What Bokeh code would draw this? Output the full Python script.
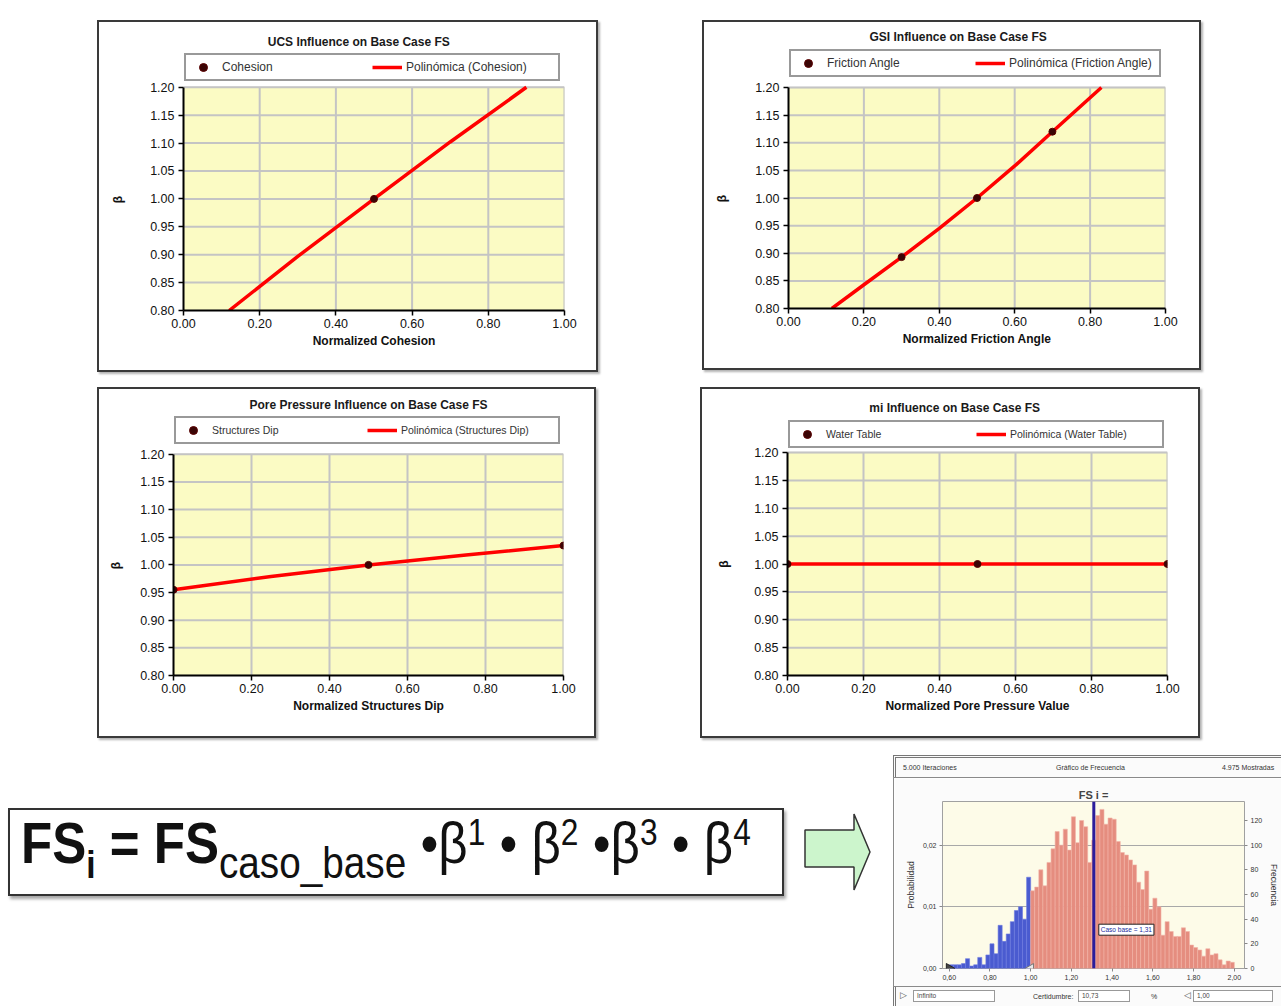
import numpy as np
from bokeh.plotting import figure
from bokeh.models import (Range1d, LinearAxis, FixedTicker, CustomJSTickFormatter,
                          PrintfTickFormatter, Legend, LegendItem, Span, Label, Div,
                          Spacer, Grid, BoxAnnotation)
from bokeh.layouts import row, column
from bokeh.embed import file_html
from bokeh.resources import INLINE

FONT = "Liberation Sans"
FRAME_BG = "#fbfbc4"

# ---------------- data: four sensitivity charts ----------------
x_ticks = [0.0, 0.2, 0.4, 0.6, 0.8, 1.0]
y_ticks = [0.80, 0.85, 0.90, 0.95, 1.00, 1.05, 1.10, 1.15, 1.20]
y_min, y_max = 0.80, 1.20

ucs_x = [0.5]
ucs_y = [1.00]
ucs_trend_x = [0.12, 0.30, 0.50, 0.70, 0.90]
ucs_trend_y = [0.80, 0.897, 1.00, 1.102, 1.20]

gsi_x = [0.3, 0.5, 0.7]
gsi_y = [0.893, 1.00, 1.12]
gsi_trend_x = [0.115, 0.20, 0.30, 0.40, 0.50, 0.60, 0.70, 0.83]
gsi_trend_y = [0.80, 0.843, 0.893, 0.945, 1.00, 1.058, 1.12, 1.20]

pp_x = [0.0, 0.5, 1.0]
pp_y = [0.955, 1.00, 1.035]
pp_trend_x = [0.0, 0.25, 0.5, 0.75, 1.0]
pp_trend_y = [0.955, 0.979, 1.00, 1.018, 1.035]

mi_x = [0.0, 0.5, 1.0]
mi_y = [1.00, 1.00, 1.00]
mi_trend_x = [0.0, 0.5, 1.0]
mi_trend_y = [1.00, 1.00, 1.00]

# ---------------- data: frequency histogram ----------------
n_iterations = 5000
hist_bin_start = 0.60
hist_bin_width = 0.02
hist_counts_below = [3, 3, 3, 4, 8, 2, 3, 9, 3, 11, 20, 12, 35, 22, 28, 38, 47, 50, 40, 74]
hist_counts_above = [63, 66, 80, 67, 86, 97, 111, 100, 113, 96,
                     123, 102, 120, 115, 86, 104, 124, 129, 117, 122,
                     121, 103, 94, 92, 88, 84, 70, 64, 79, 48,
                     57, 50, 27, 38, 30, 26, 26, 33, 30, 19,
                     17, 15, 10, 16, 11, 12, 7, 3, 6, 5]
hist_x_ticks = [0.6, 0.8, 1.0, 1.2, 1.4, 1.6, 1.8, 2.0]
freq_ticks = [0, 20, 40, 60, 80, 100, 120]
prob_ticks = [0.0, 0.01, 0.02]
base_case = 1.31
certainty_limit = 1.00

arrow_x = [0, 49, 49, 65, 49, 49, 0]
arrow_y = [23, 23, 0, 38, 76, 60, 60]

BORDER = 2
BOX_STYLE = {"border": f"{BORDER}px solid #3a3a3a",
             "box-shadow": "2px 2px 2px rgba(0,0,0,0.30)",
             "box-sizing": "border-box"}
LEGEND_H = 24
FRAME_TOP = 3
NBSP = "\u00a0"


def make_chart(title, xlabel, px, py, tx, ty, lab_pts, lab_trend,
               w, h, fig_left, fig_top, frame_left, frame_right,
               title_y, title_x, legend_top, data_top, data_bottom,
               legend_font, ystand):
    c_left = fig_left + BORDER
    c_top = fig_top + BORDER
    bl = frame_left - c_left
    br = c_left + w - frame_right
    bb = c_top + h - data_bottom
    frame_w = w - bl - br
    frame_h = h - FRAME_TOP - bb
    extra_px = data_top - c_top - FRAME_TOP
    data_h = frame_h - extra_px
    per_px = (y_max - y_min) / data_h
    y_end = y_max + extra_px * per_px
    p = figure(width=w, height=h, x_range=Range1d(0, 1), y_range=Range1d(y_min, y_end),
               output_backend="svg", toolbar_location=None,
               min_border_left=bl, min_border_right=br,
               min_border_top=FRAME_TOP, min_border_bottom=bb,
               background_fill_color="white", border_fill_color="white",
               outline_line_color=None, styles=BOX_STYLE)

    # plot area (yellow) and its grid, limited to the data region
    p.add_layout(BoxAnnotation(left=0, right=1, bottom=y_min, top=y_max,
                               fill_color=FRAME_BG, fill_alpha=1.0,
                               line_color="#b5b5b5", line_width=1.5, level="underlay"))
    gx = [t for t in x_ticks if t > 0]
    gy = [t for t in y_ticks if t > y_min]
    p.segment(x0=gx, y0=[y_min] * len(gx), x1=gx, y1=[y_max] * len(gx),
              line_color="#c4c4c4", line_width=2)
    p.segment(x0=[0] * len(gy), y0=gy, x1=[1] * len(gy), y1=gy,
              line_color="#c4c4c4", line_width=2)

    r_line = p.line(tx, ty, line_color="#ff0000", line_width=3.5)
    r_pts = p.scatter(px, py, size=7, fill_color="#3a0505", line_color="#5a0000")

    # chart title, drawn inside the (extended) frame above the legend
    p.add_layout(Label(x=title_x, y=y_max + (data_top - title_y) * per_px,
                       text=title, text_align="center", text_baseline="middle",
                       text_font=FONT, text_font_size="12px", text_font_style="bold",
                       text_color="#1a1a1a"))

    for ax in (p.xaxis[0], p.yaxis[0]):
        ax.axis_line_color = "black"
        ax.axis_line_width = 2
        ax.major_tick_line_color = "black"
        ax.major_tick_line_width = 1.5
        ax.major_tick_in = 0
        ax.major_tick_out = 5
        ax.minor_tick_line_color = None
        ax.major_label_text_font = FONT
        ax.major_label_text_font_size = "12.5px"
        ax.major_label_text_color = "#111111"
        ax.axis_label_text_font = FONT
        ax.axis_label_text_font_size = "12px"
        ax.axis_label_text_font_style = "bold"
        ax.axis_label_text_color = "#111111"
        ax.formatter = PrintfTickFormatter(format="%.2f")
    p.xaxis.ticker = FixedTicker(ticks=x_ticks)
    p.yaxis.ticker = FixedTicker(ticks=y_ticks)
    p.yaxis.bounds = (y_min, y_max)
    p.xaxis.major_label_standoff = 3
    p.xaxis.axis_label = xlabel
    p.xaxis.axis_label_standoff = 3
    p.yaxis.major_label_standoff = 4
    # the frame extends above the data; pad the label so that β sits at mid-data height
    n_pad = int(round(extra_px / 3.34))
    p.yaxis.axis_label = "β" + NBSP * n_pad
    p.yaxis.axis_label_standoff = ystand
    p.grid.visible = False

    legend_w = frame_w - 8
    label_w = (legend_w - 72) // 2
    vy = frame_h - (legend_top - c_top - FRAME_TOP) - LEGEND_H - 3
    legend = Legend(items=[LegendItem(label=lab_pts, renderers=[r_pts]),
                           LegendItem(label=lab_trend, renderers=[r_line])],
                    orientation="horizontal", location=(1, vy),
                    padding=2, spacing=0, margin=0,
                    glyph_width=30, glyph_height=20,
                    label_width=label_w, label_height=20, label_standoff=4,
                    label_text_font=FONT, label_text_font_size=legend_font,
                    label_text_color="#333333",
                    border_line_color="#333333", border_line_width=2,
                    background_fill_color="white", background_fill_alpha=1.0)
    p.add_layout(legend, "center")
    return p


p1 = make_chart("UCS Influence on Base Case FS", "Normalized Cohesion",
                ucs_x, ucs_y, ucs_trend_x, ucs_trend_y,
                "Cohesion", "Polinómica (Cohesion)",
                501, 352, 97, 20, 183, 564, 42, 0.46, 55, 87, 311, "12px", 22)
p2 = make_chart("GSI Influence on Base Case FS", "Normalized Friction Angle",
                gsi_x, gsi_y, gsi_trend_x, gsi_trend_y,
                "Friction Angle", "Polinómica (Friction Angle)",
                499, 350, 702, 20, 788, 1165, 36, 0.45, 50, 87, 308, "12px", 23)
p3 = make_chart("Pore Pressure Influence on Base Case FS", "Normalized Structures Dip",
                pp_x, pp_y, pp_trend_x, pp_trend_y,
                "Structures Dip", "Polinómica (Structures Dip)",
                499, 351, 97, 387, 173, 563, 405, 0.50, 418, 454, 676, "10.5px", 14)
p4 = make_chart("mi Influence on Base Case FS", "Normalized Pore Pressure Value",
                mi_x, mi_y, mi_trend_x, mi_trend_y,
                "Water Table", "Polinómica (Water Table)",
                500, 351, 700, 387, 787, 1167, 407, 0.44, 421, 452, 675, "10.5px", 20)

# ---------------- histogram (Crystal Ball style) ----------------
n_below = len(hist_counts_below)
n_above = len(hist_counts_above)
left_below = hist_bin_start + hist_bin_width * np.arange(n_below)
left_above = hist_bin_start + hist_bin_width * (n_below + np.arange(n_above))
y_top = 135.4

h = figure(width=388, height=210, x_range=Range1d(0.567, 2.05), y_range=Range1d(0, y_top),
           output_backend="svg", toolbar_location=None, y_axis_location="right",
           min_border_left=48, min_border_right=30, min_border_top=23, min_border_bottom=20,
           background_fill_color="#fdfbe8", border_fill_color="#fbfbfb",
           outline_line_color="#a0a0a0", outline_line_width=1,
           styles={"border-left": "1px solid #8a8a8a", "border-top": "1px solid #8a8a8a",
                   "border-bottom": "1px solid #8a8a8a", "box-sizing": "border-box"})
h.title.text = "FS i ="
h.title.align = "center"
h.title.text_font = FONT
h.title.text_font_size = "11px"
h.title.text_font_style = "bold"
h.title.standoff = 2
h.xgrid.visible = False
h.ygrid.visible = False
h.add_layout(Grid(dimension=1, ticker=FixedTicker(ticks=[50, 100]),
                  grid_line_color="#a8a8a8", grid_line_width=1))

h.vbar(x=left_below + hist_bin_width / 2, top=hist_counts_below, width=hist_bin_width,
       fill_color="#4a5bd0", line_color="#6c7be0", line_width=0.6)
h.vbar(x=left_above + hist_bin_width / 2, top=hist_counts_above, width=hist_bin_width,
       fill_color="#e58d7f", line_color="#f1b3a8", line_width=0.6)
h.add_layout(Span(location=base_case, dimension="height", line_color="#2b1d9c", line_width=3))
h.add_layout(Label(x=base_case, y=27, x_offset=5, text="Caso base = 1,31",
                   text_font=FONT, text_font_size="6.5px", text_color="#1a2d9c",
                   background_fill_color="white", border_line_color="#222222",
                   border_line_width=1, padding=2))
h.scatter([hist_x_ticks[0]], [0], marker="triangle", angle=-np.pi / 2, size=10,
          fill_color="#444444", line_color="#222222")
h.scatter([certainty_limit], [0], marker="triangle", angle=np.pi / 2, size=10,
          fill_color="#e8e8e8", line_color="#777777")

fmt_comma = CustomJSTickFormatter(code="return tick.toFixed(2).replace('.', ',');")
ax_x = h.xaxis[0]
ax_x.ticker = FixedTicker(ticks=hist_x_ticks)
ax_x.formatter = fmt_comma

ax_r = h.yaxis[0]
ax_r.ticker = FixedTicker(ticks=freq_ticks)
ax_r.axis_label = "Frecuencia"

h.extra_y_ranges = {"prob": Range1d(0, y_top / n_iterations)}
ax_l = LinearAxis(y_range_name="prob", ticker=FixedTicker(ticks=prob_ticks),
                  formatter=fmt_comma, axis_label="Probabilidad")
h.add_layout(ax_l, "left")

for ax in (ax_x, ax_r, ax_l):
    ax.axis_line_color = None
    ax.major_tick_line_color = "#888888"
    ax.major_tick_in = 0
    ax.major_tick_out = 3
    ax.minor_tick_line_color = None
    ax.major_label_text_font = FONT
    ax.major_label_text_font_size = "7px"
    ax.major_label_text_color = "#333333"
    ax.major_label_standoff = 3
    ax.axis_label_text_font = FONT
    ax.axis_label_text_font_size = "8.5px"
    ax.axis_label_text_font_style = "normal"
    ax.axis_label_text_color = "#333333"
    ax.axis_label_standoff = 4

hist_header = Div(width=388, height=22, margin=0, text=(
    '<div style="position:relative;width:388px;height:22px;font-family:\'Liberation Sans\';'
    'font-size:7px;color:#333;overflow:hidden;border-top:3px double #777;border-left:3px double #777;'
    'box-sizing:border-box;background:#fbfbfb">'
    '<span style="position:absolute;left:7px;top:5px;white-space:nowrap">5.000 Iteraciones</span>'
    '<span style="position:absolute;left:160px;top:5px;white-space:nowrap">Gráfico de Frecuencia</span>'
    '<span style="position:absolute;left:326px;top:5px;white-space:nowrap">4.975 Mostradas</span>'
    '</div>'))

box_css = ("position:absolute;top:3px;height:12px;border:1px solid #999;background:white;"
           "font-size:6.5px;line-height:10px;padding-left:3px;box-sizing:border-box;color:#444")
hist_footer = Div(width=388, height=19, margin=0, text=(
    '<div style="position:relative;width:388px;height:19px;font-family:\'Liberation Sans\';'
    'font-size:7px;color:#333;overflow:hidden;border-left:3px double #777;box-sizing:border-box;'
    'background:#fbfbfb">'
    '<span style="position:absolute;left:4px;top:2px;font-size:9px;line-height:12px;color:#555">&#9655;</span>'
    f'<div style="{box_css};left:17px;width:82px">Infinito</div>'
    '<span style="position:absolute;left:137px;top:5px;white-space:nowrap">Certidumbre:</span>'
    f'<div style="{box_css};left:182px;width:52px">10,73</div>'
    '<span style="position:absolute;left:255px;top:5px">%</span>'
    '<span style="position:absolute;left:288px;top:2px;font-size:9px;line-height:12px;color:#555">&#9665;</span>'
    f'<div style="{box_css};left:297px;width:80px">1,00</div>'
    '</div>'))

hist_col = column(hist_header, h, hist_footer, spacing=0)

# ---------------- formula and arrow ----------------
SUP = 'style="font-size:36px;vertical-align:18px;line-height:0"'
formula = Div(width=776, height=88, margin=0,
              styles={"border": "2px solid #333",
                      "box-shadow": "2px 3px 3px rgba(0,0,0,0.35)",
                      "background": "white", "box-sizing": "border-box",
                      "overflow": "hidden"},
              text=(
    '<div style="position:absolute;left:11px;top:-2px;white-space:nowrap;color:#111;'
    'font-family:\'Liberation Sans\',sans-serif;font-size:58px;line-height:70px;'
    'transform:scaleX(0.88);transform-origin:0 0">'
    '<b>FS</b><span style="font-size:38px;vertical-align:-15px;line-height:0;font-weight:bold">i</span>'
    ' <b>=</b> <b>FS</b><span style="font-size:44px;vertical-align:-15px;line-height:0">caso_base</span>'
    f' •β<span {SUP}>1</span>'
    f' • β<span {SUP}>2</span>'
    f' •β<span {SUP}>3</span>'
    f' • β<span {SUP}>4</span>'
    '</div>'))

arrow = figure(width=68, height=79, x_range=Range1d(-1.5, 66.5), y_range=Range1d(-1.5, 77.5),
               output_backend="svg", toolbar_location=None, min_border=0,
               background_fill_alpha=0, border_fill_alpha=0, outline_line_color=None)
arrow.axis.visible = False
arrow.grid.visible = False
arrow.patch(arrow_x, arrow_y, fill_color="#ccf5cc", line_color="#333333", line_width=1.5)

row1 = row(Spacer(width=97), p1, Spacer(width=104), p2, spacing=0)
row2 = row(Spacer(width=97), p3, Spacer(width=104), p4, spacing=0)
row3 = row(Spacer(width=8), column(Spacer(height=53), formula, spacing=0),
           Spacer(width=19), column(Spacer(height=57), arrow, spacing=0),
           Spacer(width=22), hist_col, spacing=0)

page = column(Spacer(height=20), row1, Spacer(height=15), row2, Spacer(height=17), row3, spacing=0)

with open("out.html", "w") as f:
    f.write(file_html(page, INLINE, title="FS sensitivity"))
